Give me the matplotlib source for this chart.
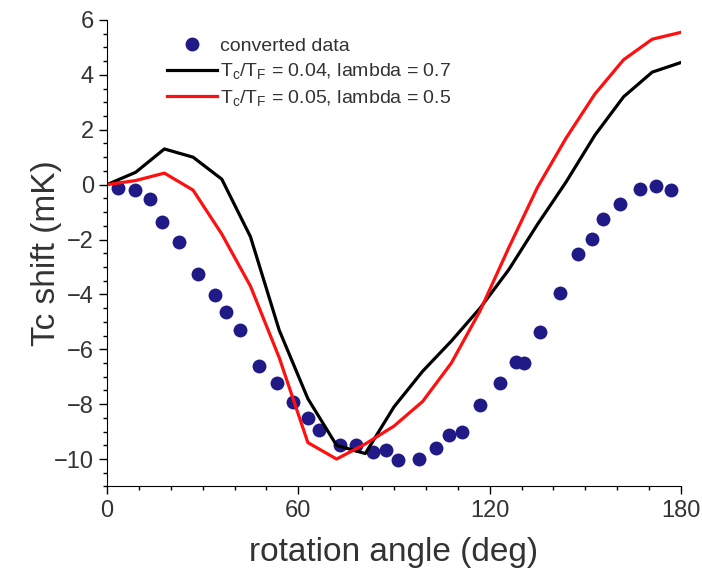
import numpy as np
import matplotlib.pyplot as plt
from matplotlib.ticker import MultipleLocator

plt.rcParams['font.family'] = ['Liberation Sans', 'DejaVu Sans']
plt.rcParams['mathtext.default'] = 'regular'

# converted data (blue dots)
data_angle = [3.5, 8.8, 13.5, 17.1, 22.6, 28.6, 33.8, 37.3, 41.7, 47.7, 53.2, 58.2,
              63.1, 66.5, 73.0, 78.2, 83.4, 87.6, 91.3, 97.8, 103.3, 107.2, 111.4,
              116.9, 123.1, 128.4, 130.7, 135.9, 142.2, 147.7, 152.2, 155.7, 160.9,
              167.2, 172.2, 176.9]
data_shift = [-0.13, -0.2, -0.54, -1.35, -2.1, -3.26, -4.02, -4.65, -5.3, -6.61, -7.24,
              -7.91, -8.52, -8.95, -9.49, -9.49, -9.73, -9.67, -10.04, -9.98, -9.59,
              -9.12, -9.0, -8.03, -7.24, -6.45, -6.51, -5.36, -3.96, -2.53, -1.99,
              -1.26, -0.71, -0.16, -0.05, -0.2]

# model curves
model_angle = [0, 9, 18, 27, 36, 45, 54, 63, 72, 81, 90, 99, 108, 117, 126, 135,
               144, 153, 162, 171, 180]
shift_a = [0, 0.45, 1.3, 1.0, 0.2, -1.9, -5.3, -7.8, -9.5, -9.8, -8.1, -6.8, -5.7,
           -4.5, -3.1, -1.45, 0.1, 1.8, 3.2, 4.1, 4.45]
shift_b = [0, 0.15, 0.42, -0.2, -1.8, -3.7, -6.3, -9.4, -10.0, -9.45, -8.8, -7.9,
           -6.5, -4.6, -2.3, -0.1, 1.7, 3.3, 4.55, 5.3, 5.55]

fig = plt.figure(figsize=(7.02, 5.71), dpi=100)
ax = fig.add_axes([0.1524, 0.148, 0.8176, 0.817])

ax.plot(data_angle, data_shift, 'o', color='#1f1a85', markersize=10,
        markeredgewidth=0, label='converted data')
ax.plot(model_angle, shift_a, color='black', lw=2.3,
        label='T$_c$/T$_F$ = 0.04, lambda = 0.7')
ax.plot(model_angle, shift_b, color='#ff1010', lw=2.3,
        label='T$_c$/T$_F$ = 0.05, lambda = 0.5')

ax.set_xlim(0, 180)
ax.set_ylim(-11, 6)
ax.xaxis.set_major_locator(MultipleLocator(60))
ax.xaxis.set_minor_locator(MultipleLocator(10))
ax.yaxis.set_major_locator(MultipleLocator(2))
ax.yaxis.set_minor_locator(MultipleLocator(0.5))
ax.tick_params(which='major', direction='out', length=6, width=1,
               labelsize=17, labelcolor='#333333')
ax.tick_params(which='minor', direction='out', length=3, width=1)
for s in ['top', 'right']:
    ax.spines[s].set_visible(False)

ax.set_xlabel('rotation angle (deg)', fontsize=24, color='#333333', labelpad=11)
ax.set_ylabel('Tc shift (mK)', fontsize=24, color='#333333', labelpad=-6)

ax.legend(loc='upper left', bbox_to_anchor=(0.087, 0.983), frameon=False,
          fontsize=14, handlelength=2.6, handletextpad=0.15, labelspacing=0.32,
          borderpad=0, labelcolor='#333333')

fig.savefig('out.png', dpi=100)
